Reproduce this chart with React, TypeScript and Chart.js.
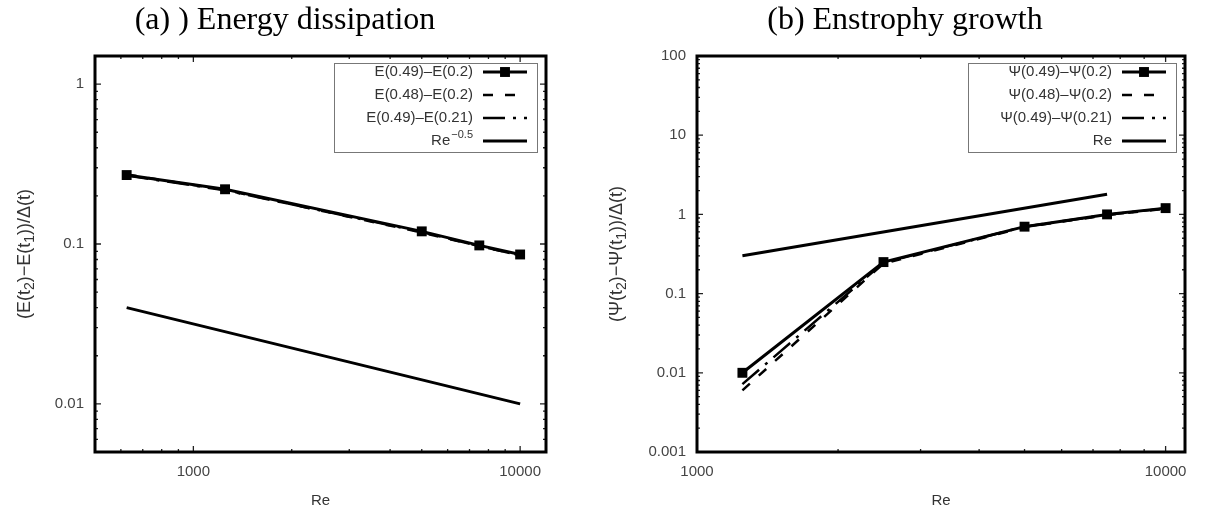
import React, { useEffect, useRef } from 'react';
import { Chart, registerables } from 'chart.js';

Chart.register(...registerables);

// ---------- Panel (a): energy dissipation ----------
const reA = [625, 1250, 5000, 7500, 10000];
const eA1 = [0.27, 0.22, 0.12, 0.098, 0.086];
const eA2 = [0.272, 0.218, 0.118, 0.097, 0.085];
const eA3 = [0.268, 0.217, 0.119, 0.097, 0.085];
const reRefA = [625, 10000];
const refA = [0.04, 0.01];
const labelsA = ['E(0.49)–E(0.2)', 'E(0.48)–E(0.2)', 'E(0.49)–E(0.21)', 'Re^{−0.5}'];
const xTicksA = [1000, 10000];
const yTicksA = [0.01, 0.1, 1];

// ---------- Panel (b): enstrophy growth ----------
const reB = [1250, 2500, 5000, 7500, 10000];
const pB1 = [0.01, 0.25, 0.7, 1.0, 1.2];
const pB2 = [0.006, 0.24, 0.69, 0.98, 1.18];
const pB3 = [0.0072, 0.245, 0.7, 0.99, 1.19];
const reRefB = [1250, 7500];
const refB = [0.3, 1.8];
const labelsB = ['Ψ(0.49)–Ψ(0.2)', 'Ψ(0.48)–Ψ(0.2)', 'Ψ(0.49)–Ψ(0.21)', 'Re'];
const xTicksB = [1000, 10000];
const yTicksB = [0.001, 0.01, 0.1, 1, 10, 100];

const SANS = '"Liberation Sans", Arial, sans-serif';

function logTicks(min: number, max: number): number[] {
  const out: number[] = [];
  for (let d = Math.floor(Math.log10(min)); d <= Math.ceil(Math.log10(max)); d++) {
    for (let k = 1; k <= 9; k++) {
      const v = parseFloat((k * Math.pow(10, d)).toPrecision(6));
      if (v >= min * 0.9999 && v <= max * 1.0001) out.push(v);
    }
  }
  return out;
}

function findLabel(v: number, labels: number[]) {
  return labels.find((l) => Math.abs(l - v) / l < 1e-6);
}

const framePlugin = {
  id: 'gframe',
  afterDraw(chart: any, _a: any, opts: any) {
    const { ctx, chartArea: a, scales } = chart;
    ctx.save();
    ctx.strokeStyle = '#222';
    ctx.lineWidth = 1.3;
    const xs = scales.x;
    const ys = scales.y;
    for (const t of xs.ticks) {
      const px = xs.getPixelForValue(t.value);
      const len = findLabel(t.value, opts.xMajor) !== undefined ? 6 : 3;
      ctx.beginPath();
      ctx.moveTo(px, a.bottom);
      ctx.lineTo(px, a.bottom - len);
      ctx.moveTo(px, a.top);
      ctx.lineTo(px, a.top + len);
      ctx.stroke();
    }
    for (const t of ys.ticks) {
      const py = ys.getPixelForValue(t.value);
      const len = findLabel(t.value, opts.yMajor) !== undefined ? 6 : 3;
      ctx.beginPath();
      ctx.moveTo(a.left, py);
      ctx.lineTo(a.left + len, py);
      ctx.moveTo(a.right, py);
      ctx.lineTo(a.right - len, py);
      ctx.stroke();
    }
    ctx.lineWidth = 3;
    ctx.strokeStyle = '#000';
    ctx.strokeRect(a.left, a.top, a.right - a.left, a.bottom - a.top);
    ctx.restore();
  },
};

// y-axis title with real subscripts ("t_2" -> t with subscript 2)
const yTitlePlugin = {
  id: 'gytitle',
  afterDraw(chart: any, _a: any, opts: any) {
    const { ctx, chartArea: a } = chart;
    const size = opts.size;
    const subSize = Math.round(size * 0.75);
    const segs: { t: string; sub: boolean }[] = [];
    const re = /_(.)/g;
    let last = 0;
    let m: RegExpExecArray | null;
    while ((m = re.exec(opts.text))) {
      if (m.index > last) segs.push({ t: opts.text.slice(last, m.index), sub: false });
      segs.push({ t: m[1], sub: true });
      last = m.index + 2;
    }
    if (last < opts.text.length) segs.push({ t: opts.text.slice(last), sub: false });
    ctx.save();
    const widths = segs.map((s) => {
      ctx.font = (s.sub ? subSize : size) + 'px ' + SANS;
      return ctx.measureText(s.t).width;
    });
    const total = widths.reduce((p, c) => p + c, 0);
    ctx.translate(opts.x, (a.top + a.bottom) / 2);
    ctx.rotate(-Math.PI / 2);
    ctx.fillStyle = '#333';
    ctx.textBaseline = 'middle';
    ctx.textAlign = 'left';
    let x = -total / 2;
    segs.forEach((s, i) => {
      ctx.font = (s.sub ? subSize : size) + 'px ' + SANS;
      ctx.fillText(s.t, x, s.sub ? size * 0.3 : 0);
      x += widths[i];
    });
    ctx.restore();
  },
};

function splitSup(label: string) {
  const m = label.match(/^(.*)\^\{(.*)\}$/);
  return m ? { base: m[1], sup: m[2] } : { base: label, sup: '' };
}

const legendPlugin = {
  id: 'glegend',
  afterDatasetsDraw(chart: any, _a: any, opts: any) {
    const { ctx, chartArea: a } = chart;
    const ds = chart.data.datasets;
    const rowH = opts.rowH;
    const font = '15px ' + SANS;
    const supFont = '11px ' + SANS;
    ctx.save();
    const parts = ds.map((d: any) => splitSup(d.label));
    const widths = parts.map((p: any) => {
      ctx.font = font;
      let w = ctx.measureText(p.base).width;
      if (p.sup) {
        ctx.font = supFont;
        w += ctx.measureText(p.sup).width + 1;
      }
      return w;
    });
    const boxRight = a.right - 9;
    const boxTop = a.top + 7;
    const textRight = boxRight - 64;
    const maxW = Math.max(...widths);
    const boxLeft = textRight - maxW - 32;
    const boxH = 9 + (ds.length - 1) * rowH + 11;
    ctx.strokeStyle = '#777';
    ctx.lineWidth = 1;
    ctx.strokeRect(Math.round(boxLeft) + 0.5, boxTop + 0.5, Math.round(boxRight - boxLeft), boxH);
    ds.forEach((d: any, i: number) => {
      const y = boxTop + 9 + rowH * i;
      const p = parts[i];
      ctx.fillStyle = '#333';
      ctx.textBaseline = 'middle';
      ctx.textAlign = 'right';
      let xr = textRight;
      if (p.sup) {
        ctx.font = supFont;
        ctx.fillText(p.sup, xr, y - 6);
        xr -= ctx.measureText(p.sup).width + 1;
      }
      ctx.font = font;
      ctx.fillText(p.base, xr, y);
      const x0 = textRight + 10;
      const x1 = boxRight - 10;
      ctx.strokeStyle = d.borderColor;
      ctx.lineWidth = d.borderWidth;
      ctx.setLineDash(d.borderDash || []);
      ctx.beginPath();
      ctx.moveTo(x0, y);
      ctx.lineTo(x1, y);
      ctx.stroke();
      ctx.setLineDash([]);
      if (d.pointRadius > 0) {
        const s = d.pointRadius * Math.SQRT1_2;
        ctx.fillStyle = d.pointBackgroundColor;
        ctx.fillRect((x0 + x1) / 2 - s, y - s, 2 * s, 2 * s);
      }
    });
    ctx.restore();
  },
};

function pts(xs: number[], ys: number[]) {
  return xs.map((x, i) => ({ x, y: ys[i] }));
}

function makeDatasets(xs: number[], s1: number[], s2: number[], s3: number[], rx: number[], ry: number[], labels: string[]) {
  return [
    {
      label: labels[0],
      data: pts(xs, s1),
      borderColor: '#000',
      borderWidth: 3,
      borderDash: [],
      pointStyle: 'rect',
      pointRadius: 7,
      pointBackgroundColor: '#000',
      pointBorderWidth: 0,
      tension: 0,
    },
    {
      label: labels[1],
      data: pts(xs, s2),
      borderColor: '#000',
      borderWidth: 2.5,
      borderDash: [10, 12],
      pointRadius: 0,
      tension: 0,
    },
    {
      label: labels[2],
      data: pts(xs, s3),
      borderColor: '#000',
      borderWidth: 2.5,
      borderDash: [22, 8, 3, 8],
      pointRadius: 0,
      tension: 0,
    },
    {
      label: labels[3],
      data: pts(rx, ry),
      borderColor: '#000',
      borderWidth: 3,
      borderDash: [],
      pointRadius: 0,
      tension: 0,
    },
  ];
}

interface PanelOpts {
  datasets: any[];
  xMin: number;
  xMax: number;
  yMin: number;
  yMax: number;
  xLabels: number[];
  yLabels: number[];
  yTitle: string;
  yTitleX: number;
  yAxisW: number;
  padRight: number;
}

function makeConfig(p: PanelOpts): any {
  return {
    type: 'line',
    data: { datasets: p.datasets },
    plugins: [framePlugin, legendPlugin, yTitlePlugin],
    options: {
      animation: false,
      responsive: false,
      maintainAspectRatio: false,
      events: [],
      layout: { padding: { top: 56, right: p.padRight, left: 0, bottom: 0 } },
      plugins: {
        legend: { display: false },
        tooltip: { enabled: false },
        title: { display: false },
        gframe: { xMajor: p.xLabels, yMajor: p.yLabels },
        glegend: { rowH: 23 },
        gytitle: { text: p.yTitle, x: p.yTitleX, size: 18 },
      },
      scales: {
        x: {
          type: 'logarithmic',
          min: p.xMin,
          max: p.xMax,
          grid: { display: false, drawTicks: false },
          border: { display: false },
          afterBuildTicks: (s: any) => {
            s.ticks = logTicks(p.xMin, p.xMax).map((v) => ({ value: v }));
          },
          afterFit: (s: any) => {
            s.height = 59;
          },
          ticks: {
            autoSkip: false,
            maxRotation: 0,
            padding: 11,
            color: '#444',
            font: { family: SANS, size: 15 },
            callback: (v: number) => {
              const l = findLabel(v, p.xLabels);
              return l !== undefined ? String(l) : '';
            },
          },
          title: {
            display: true,
            text: 'Re',
            color: '#333',
            font: { family: SANS, size: 15 },
            padding: { top: 0, bottom: 1 },
          },
        },
        y: {
          type: 'logarithmic',
          min: p.yMin,
          max: p.yMax,
          grid: { display: false, drawTicks: false },
          border: { display: false },
          afterBuildTicks: (s: any) => {
            s.ticks = logTicks(p.yMin, p.yMax).map((v) => ({ value: v }));
          },
          afterFit: (s: any) => {
            s.width = p.yAxisW;
          },
          ticks: {
            autoSkip: false,
            padding: 11,
            color: '#444',
            font: { family: SANS, size: 15 },
            callback: (v: number) => {
              const l = findLabel(v, p.yLabels);
              return l !== undefined ? String(l) : '';
            },
          },
          title: { display: false },
        },
      },
    },
  };
}

function ChartCanvas(props: { width: number; height: number; build: () => any }) {
  const ref = useRef<HTMLCanvasElement>(null);
  useEffect(() => {
    const chart = new Chart(ref.current as HTMLCanvasElement, props.build());
    return () => chart.destroy();
  }, []);
  return (
    <canvas
      ref={ref}
      width={props.width}
      height={props.height}
      style={{ display: 'block', width: props.width, height: props.height }}
    />
  );
}

const titleStyle: React.CSSProperties = {
  position: 'absolute',
  top: 0,
  height: 36,
  lineHeight: '36px',
  textAlign: 'center',
  fontFamily: '"Liberation Serif", "Times New Roman", serif',
  fontSize: 32,
  color: '#000',
  whiteSpace: 'nowrap',
};

export default function App() {
  return (
    <div style={{ position: 'fixed', left: 0, top: 0, width: 1223, height: 511, background: '#fff', overflow: 'hidden' }}>
      <div style={{ position: 'absolute', left: 0, top: 0 }}>
        <ChartCanvas
          width={575}
          height={511}
          build={() =>
            makeConfig({
              datasets: makeDatasets(reA, eA1, eA2, eA3, reRefA, refA, labelsA),
              xMin: 500,
              xMax: 12000,
              yMin: 0.005,
              yMax: 1.5,
              xLabels: xTicksA,
              yLabels: yTicksA,
              yTitle: '(E(t_2)−E(t_1))/Δ(t)',
              yTitleX: 25,
              yAxisW: 95,
              padRight: 29,
            })
          }
        />
      </div>
      <div style={{ position: 'absolute', left: 595, top: 0 }}>
        <ChartCanvas
          width={628}
          height={511}
          build={() =>
            makeConfig({
              datasets: makeDatasets(reB, pB1, pB2, pB3, reRefB, refB, labelsB),
              xMin: 1000,
              xMax: 11000,
              yMin: 0.001,
              yMax: 100,
              xLabels: xTicksB,
              yLabels: yTicksB,
              yTitle: '(Ψ(t_2)−Ψ(t_1))/Δ(t)',
              yTitleX: 22,
              yAxisW: 102,
              padRight: 38,
            })
          }
        />
      </div>
      <div style={{ ...titleStyle, left: 85, width: 400 }}>(a) ) Energy dissipation</div>
      <div style={{ ...titleStyle, left: 705, width: 400 }}>(b) Enstrophy growth</div>
    </div>
  );
}
